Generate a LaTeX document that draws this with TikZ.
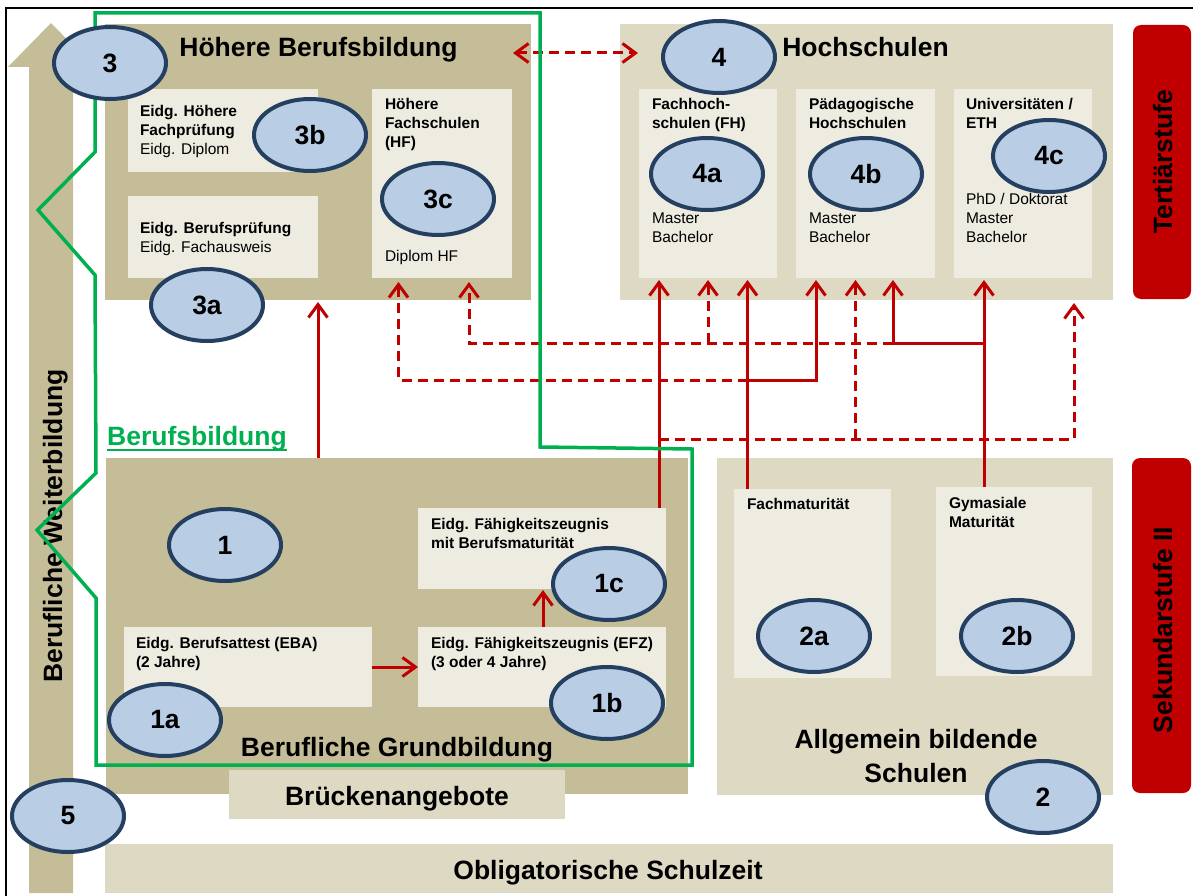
\documentclass[tikz,border=0pt]{standalone}
\usepackage{fontspec}
\setmainfont{Liberation Sans}
\usetikzlibrary{arrows.meta,calc,shapes.geometric}
\definecolor{tandark}{HTML}{C4BD97}
\definecolor{tanlight}{HTML}{DDD9C3}
\definecolor{tanpale}{HTML}{EEECE1}
\definecolor{ellfill}{HTML}{B9CDE5}
\definecolor{elldraw}{HTML}{243F60}
\definecolor{arrred}{HTML}{C00000}
\definecolor{grline}{HTML}{00B050}
\newcommand\ftitle{\fontsize{26.5}{30}\selectfont\bfseries}
\newcommand\fsmall{\fontsize{15.5}{19}\selectfont}
\begin{document}
\begin{tikzpicture}[x=1pt,y=-1pt,
  area/.style={anchor=north west,inner sep=0pt,outer sep=0pt,draw=none},
  txt/.style={anchor=north west,inner sep=0pt,outer sep=0pt,align=left,font=\fsmall},
  ttl/.style={anchor=base,inner sep=0pt,font=\ftitle},
  ell/.style={ellipse,draw=elldraw,line width=4pt,fill=ellfill,minimum width=112pt,minimum height=72pt,inner sep=0pt,font=\ftitle},
  rline/.style={draw=arrred,line width=3pt},
  rdash/.style={draw=arrred,line width=3pt,dash pattern=on 10pt off 6pt},
  tip/.tip={Straight Barb[length=13pt,width=19pt]}
]
\useasboundingbox (0,0) rectangle (1193,896);
% frame
\draw[line width=2pt] (5.5,896) -- (5.5,8.5) -- (1193,8.5);
% left column arrow
\fill[tandark] (29,893) -- (29,67) -- (8,67) -- (51,23) -- (94,67) -- (73,67) -- (73,893) -- cycle;
\node[rotate=90,anchor=base,inner sep=0pt,font=\ftitle] (bw) at (62,526) {Berufliche Weiterbildung};

% main areas
\node[area,fill=tandark,minimum width=426pt,minimum height=276pt] (hb) at (105,24) {};
\node[area,fill=tanlight,minimum width=493pt,minimum height=276pt] (hs) at (620,24) {};
\node[area,fill=tandark,minimum width=582pt,minimum height=336pt] (gb) at (106,458) {};
\node[area,fill=tanlight,minimum width=396pt,minimum height=337pt] (as) at (717,458) {};
\node[area,fill=tanlight,minimum width=336pt,minimum height=49pt] (br) at (229,770) {};
\node[area,fill=tanlight,minimum width=1008pt,minimum height=49pt] (ob) at (105,844) {};
\node[area,fill=arrred,rounded corners=8pt,minimum width=58pt,minimum height=274pt] (tb) at (1133,25) {};
\node[area,fill=arrred,rounded corners=8pt,minimum width=59pt,minimum height=335pt] (sb) at (1132,458) {};

% inner boxes
\node[area,fill=tanpale,minimum width=190pt,minimum height=83pt] (b3b) at (128,89) {};
\node[area,fill=tanpale,minimum width=190pt,minimum height=82pt] (b3a) at (128,196) {};
\node[area,fill=tanpale,minimum width=140pt,minimum height=189pt] (b3c) at (372,89) {};
\node[area,fill=tanpale,minimum width=138pt,minimum height=189pt] (b4a) at (639,89) {};
\node[area,fill=tanpale,minimum width=139pt,minimum height=189pt] (b4b) at (796,89) {};
\node[area,fill=tanpale,minimum width=138.5pt,minimum height=189pt] (b4c) at (953.5,89) {};
\node[area,fill=tanpale,minimum width=157pt,minimum height=189pt] (fm) at (734,489) {};
\node[area,fill=tanpale,minimum width=156pt,minimum height=189pt] (gm) at (936,487) {};
\node[area,fill=tanpale,minimum width=248pt,minimum height=80pt] (eba) at (124,627) {};
\node[area,fill=tanpale,minimum width=248pt,minimum height=80pt] (efz) at (418,627) {};
\node[area,fill=tanpale,minimum width=248pt,minimum height=81pt] (bm) at (418,508) {};

% titles
\node[ttl] (thb) at (318.5,57) {Höhere Berufsbildung};
\node[ttl] (ths) at (865.5,57) {Hochschulen};
\node[ttl] (tgb) at (397,756) {Berufliche Grundbildung};
\node[ttl] (tbr) at (397,805) {Brückenangebote};
\node[ttl] (tas1) at (916,748) {Allgemein bildende};
\node[ttl] (tas2) at (916,782) {Schulen};
\node[ttl] (tob) at (608,879) {Obligatorische Schulzeit};
\node[rotate=90,anchor=base,inner sep=0pt,font=\ftitle] (ttb) at (1172,162) {Tertiärstufe};
\node[rotate=90,anchor=base,inner sep=0pt,font=\ftitle] (tsb) at (1172,630) {Sekundarstufe II};
\node[anchor=base west,inner sep=0pt,font=\ftitle,text=grline] (tbb) at (107,445) {Berufsbildung};
\draw[grline,line width=2pt] ([yshift=-5pt]tbb.base west) -- ([yshift=-5pt]tbb.base east);

% small texts
\node[txt] (x3b) at (140,103.7) {\strut\textbf{Eidg. Höhere}\\\textbf{Fachprüfung}\\Eidg. Diplom};
\node[txt] (x3a) at (140,219.7) {\strut\textbf{Eidg. Berufsprüfung}\\Eidg. Fachausweis};
\node[txt] (x3c) at (385,96.7) {\strut\textbf{Höhere}\\\textbf{Fachschulen}\\\textbf{(HF)}};
\node[txt] (x3cd) at (385,247.7) {\strut Diplom HF};
\node[txt] (x4a) at (652,96.7) {\strut\textbf{Fachhoch-}\\\textbf{schulen (FH)}};
\node[txt] (x4ad) at (652,209.7) {\strut Master\\Bachelor};
\node[txt] (x4b) at (809,96.7) {\strut\textbf{Pädagogische}\\\textbf{Hochschulen}};
\node[txt] (x4bd) at (809,209.7) {\strut Master\\Bachelor};
\node[txt] (x4c) at (966,96.7) {\strut\textbf{Universitäten /}\\\textbf{ETH}};
\node[txt] (x4cd) at (966,190.7) {\strut PhD / Doktorat\\Master\\Bachelor};
\node[txt] (xfm) at (747,495.7) {\strut\textbf{Fachmaturität}};
\node[txt] (xgm) at (949,494.7) {\strut\textbf{Gymasiale}\\\textbf{Maturität}};
\node[txt] (xeba) at (136,634.7) {\strut\textbf{Eidg. Berufsattest (EBA)}\\\textbf{(2 Jahre)}};
\node[txt] (xefz) at (431,634.7) {\strut\textbf{Eidg. Fähigkeitszeugnis (EFZ)}\\\textbf{(3 oder 4 Jahre)}};
\node[txt] (xbm) at (431,515.7) {\strut\textbf{Eidg. Fähigkeitszeugnis}\\\textbf{mit Berufsmaturität}};

% connector points
\coordinate (pt4a1) at ($(b4a.south west)+(20,2)$);
\coordinate (pt4a2) at ($(b4a.south west)+(69,2)$);
\coordinate (pt4a3) at ($(b4a.south west)+(108.5,2)$);
\coordinate (pt4b1) at ($(b4b.south west)+(20,2)$);
\coordinate (pt4b2) at ($(b4b.south west)+(59.5,2)$);
\coordinate (pt4b3) at ($(b4b.south west)+(97,2)$);
\coordinate (pt4c) at ($(b4c.south west)+(30.5,2)$);
\coordinate (phsr) at ($(hs.south west)+(454,3)$);
\coordinate (pt3c1) at ($(b3c.south west)+(26.5,4)$);
\coordinate (pt3c2) at ($(b3c.south west)+(97,4)$);
\coordinate (phb) at ($(hb.south west)+(213,2)$);
\coordinate (psbm) at ($(bm.north west)+(241,0)$);
\coordinate (psfm) at ($(fm.north west)+(13.5,0)$);
\coordinate (psgm) at ($(gm.north west)+(48,0)$);
\coordinate (psgb) at ($(gb.north west)+(212,0)$);
\coordinate (jf) at (747.5,380);
\coordinate (jg) at (984,343);
\coordinate (jb) at (659,439);
\coordinate (dl) at ($(hb.north east)+(-18,29)$);
\coordinate (dr) at ($(hs.north west)+(18,29)$);

% red connectors
\draw[rline,-tip] (eba.east) -- (efz.west);
\draw[rline,-tip] ($(efz.north west)+(125,0)$) -- ($(bm.south west)+(125,1)$);
\draw[rline,-tip] (psgb) -- (phb);
\draw[rline,-tip] (psbm) -- (pt4a1);
\draw[rline,-tip] (psfm) -- (pt4a3);
\draw[rline,-tip] (psgm) -- (pt4c);
\draw[rline,-tip] (jf) -- (jf -| pt4b1) -- (pt4b1);
\draw[rdash,-tip] (jf) -- (jf -| pt3c1) -- (pt3c1);
\draw[rline,-tip] (jg) -- (jg -| pt4b3) -- (pt4b3);
\draw[rdash,-tip] (jg -| pt4b3) -- (jg -| pt3c2) -- (pt3c2);
\draw[rdash,-tip] (jg -| pt4a2) -- (pt4a2);
\draw[rdash,-tip] (jb) -- (jb -| phsr) -- (phsr);
\draw[rdash,-tip] (jb -| pt4b2) -- (pt4b2);
\draw[rdash,tip-tip] (dl) -- (dr);

% green outline
\draw[grline,line width=3.5pt] (95,13) -- (540,13) -- (540,447) -- (692,449) -- (692,765) -- (96,765) -- (96,598) -- (37,530) -- (96,473) -- (95,275) -- (38,210) -- (95,152) -- cycle;

% ellipses
\node[ell] (e3) at (110,63) {3};
\node[ell] (e3b) at (310,135) {3b};
\node[ell] (e3c) at (438,199) {3c};
\node[ell] (e3a) at (207,305) {3a};
\node[ell] (e4) at (719,57) {4};
\node[ell] (e4a) at (707,174) {4a};
\node[ell] (e4b) at (866,174) {4b};
\node[ell] (e4c) at (1049,156) {4c};
\node[ell] (e2a) at (814,636) {2a};
\node[ell] (e2b) at (1017,636) {2b};
\node[ell] (e2) at (1043,797) {2};
\node[ell] (e1) at (225,545) {1};
\node[ell] (e1a) at (165,720) {1a};
\node[ell] (e1b) at (607,703) {1b};
\node[ell] (e1c) at (609,584) {1c};
\node[ell] (e5) at (68,816) {5};
\end{tikzpicture}
\end{document}
